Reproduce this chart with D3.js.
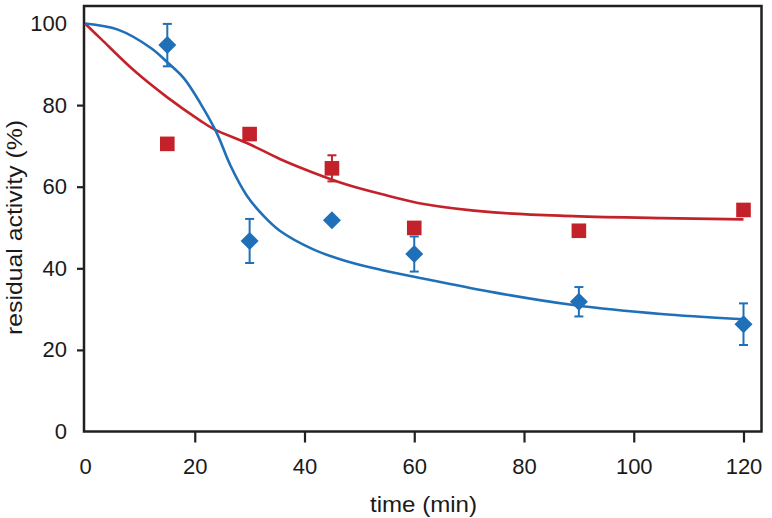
<!DOCTYPE html>
<html>
<head>
<meta charset="utf-8">
<script src="https://cdn.jsdelivr.net/npm/d3@7"></script>
<style>
  html, body { margin: 0; padding: 0; background: #fff; }
  svg { display: block; }
  text { font-family: "Liberation Sans", Arial, Helvetica, sans-serif; fill: #1a1a1a; }
</style>
</head>
<body>
<svg id="chart" width="772" height="518"></svg>
<script>
// ---- data ----
const timePoints = [15, 30, 45, 60, 90, 120];
const blueValues = [94.7, 46.7, 51.8, 43.5, 31.8, 26.3];
const blueErrors = [5.2, 5.4, 0, 4.3, 3.6, 5.1];
const redValues  = [70.5, 72.9, 64.5, 49.9, 49.2, 54.3];
const redErrors  = [0, 0, 3.2, 0, 0, 0];

// fitted curves
const blueFitT = [0, 6, 12, 15, 18, 21, 24, 26.5, 29.5, 32.5, 35.5, 41.5, 47.5, 54, 62, 74.5, 89, 105, 120];
const blueFitV = [100, 98.5, 94, 90.5, 86.6, 80.5, 73.2, 65.2, 57.8, 52.9, 49.2, 44.7, 41.8, 39.6, 37.4, 34.1, 31.0, 28.8, 27.5];
const redFitT  = [0, 3, 9, 15, 21, 23.5, 30, 35.5, 41.5, 47.5, 54, 62, 74.5, 89, 105, 120];
const redFitV  = [100, 96.1, 88.4, 81.9, 76.2, 74.1, 70.4, 66.8, 63.5, 60.6, 58.2, 55.7, 53.7, 52.8, 52.3, 52.0];

const xTicks = [0, 20, 40, 60, 80, 100, 120];
const yTicks = [0, 20, 40, 60, 80, 100];

const xTitle = "time (min)";
const yTitle = "residual activity (%)";

// ---- layout ----
const frameL = 84, frameR = 761.5, frameT = 6, frameB = 431.5;
const blue = "#1f70b8", red = "#c4222b";

const svg = d3.select("#chart");
const x = d3.scaleLinear().domain([0, 120]).range([85, 743.5]);
const y = d3.scaleLinear().domain([0, 100]).range([431.5, 23.5]);

// x axis
const xAxis = svg.append("g")
  .attr("transform", `translate(0,${frameB})`)
  .call(d3.axisBottom(x).tickValues(xTicks).tickSize(11).tickPadding(16).tickFormat(d3.format("d")));
xAxis.select(".domain").remove();
xAxis.selectAll(".tick line").attr("stroke", "#231f20").attr("stroke-width", 2.2)
  .filter(d => d === 0).remove();
xAxis.selectAll(".tick text").attr("font-size", 22).attr("fill", "#1a1a1a")
  .attr("font-family", "Liberation Sans, Arial, sans-serif");

// y axis
const yAxis = svg.append("g")
  .attr("transform", `translate(${frameL},0)`)
  .call(d3.axisLeft(y).tickValues(yTicks).tickSize(7).tickPadding(10).tickFormat(d3.format("d")));
yAxis.select(".domain").remove();
yAxis.selectAll(".tick line").attr("stroke", "#231f20").attr("stroke-width", 2.2)
  .filter(d => d === 0 || d === 100).remove();
yAxis.selectAll(".tick text").attr("font-size", 22).attr("fill", "#1a1a1a")
  .attr("font-family", "Liberation Sans, Arial, sans-serif");

// frame
svg.append("rect")
  .attr("x", frameL).attr("y", frameT)
  .attr("width", frameR - frameL).attr("height", frameB - frameT)
  .attr("fill", "none").attr("stroke", "#231f20").attr("stroke-width", 2.5);

// titles
svg.append("text")
  .attr("x", 423.5).attr("y", 512)
  .attr("text-anchor", "middle").attr("font-size", 22)
  .attr("textLength", 107).attr("lengthAdjust", "spacingAndGlyphs")
  .text(xTitle);
svg.append("text")
  .attr("transform", "translate(22,227.5) rotate(-90)")
  .attr("text-anchor", "middle").attr("font-size", 22)
  .attr("textLength", 215).attr("lengthAdjust", "spacingAndGlyphs")
  .text(yTitle);

// fit curves
const line = d3.line().x(d => x(d[0])).y(d => y(d[1])).curve(d3.curveCatmullRom.alpha(0.5));
svg.append("path")
  .datum(redFitT.map((t, i) => [t, redFitV[i]]))
  .attr("d", line).attr("fill", "none").attr("stroke", red).attr("stroke-width", 2.6);
svg.append("path")
  .datum(blueFitT.map((t, i) => [t, blueFitV[i]]))
  .attr("d", line).attr("fill", "none").attr("stroke", blue).attr("stroke-width", 2.6);

// error bars + markers
function drawSeries(values, errors, color, shape) {
  const g = svg.append("g");
  const data = timePoints.map((t, i) => ({ t, v: values[i], e: errors[i] }));
  const eb = g.selectAll(".eb").data(data.filter(d => d.e > 0)).join("g")
    .attr("stroke", color).attr("stroke-width", 2);
  eb.append("line")
    .attr("x1", d => x(d.t)).attr("x2", d => x(d.t))
    .attr("y1", d => y(d.v + d.e)).attr("y2", d => y(d.v - d.e));
  eb.append("line")
    .attr("x1", d => x(d.t) - 4.5).attr("x2", d => x(d.t) + 4.5)
    .attr("y1", d => y(d.v + d.e)).attr("y2", d => y(d.v + d.e));
  eb.append("line")
    .attr("x1", d => x(d.t) - 4.5).attr("x2", d => x(d.t) + 4.5)
    .attr("y1", d => y(d.v - d.e)).attr("y2", d => y(d.v - d.e));
  if (shape === "diamond") {
    g.selectAll(".m").data(data).join("path")
      .attr("d", d => {
        const cx = x(d.t), cy = y(d.v), r = 9;
        return `M${cx},${cy - r}L${cx + r},${cy}L${cx},${cy + r}L${cx - r},${cy}Z`;
      })
      .attr("fill", color);
  } else {
    g.selectAll(".m").data(data).join("rect")
      .attr("x", d => x(d.t) - 7.3).attr("y", d => y(d.v) - 7.3)
      .attr("width", 14.6).attr("height", 14.6)
      .attr("fill", color);
  }
}
drawSeries(blueValues, blueErrors, blue, "diamond");
drawSeries(redValues, redErrors, red, "square");
</script>
</body>
</html>
